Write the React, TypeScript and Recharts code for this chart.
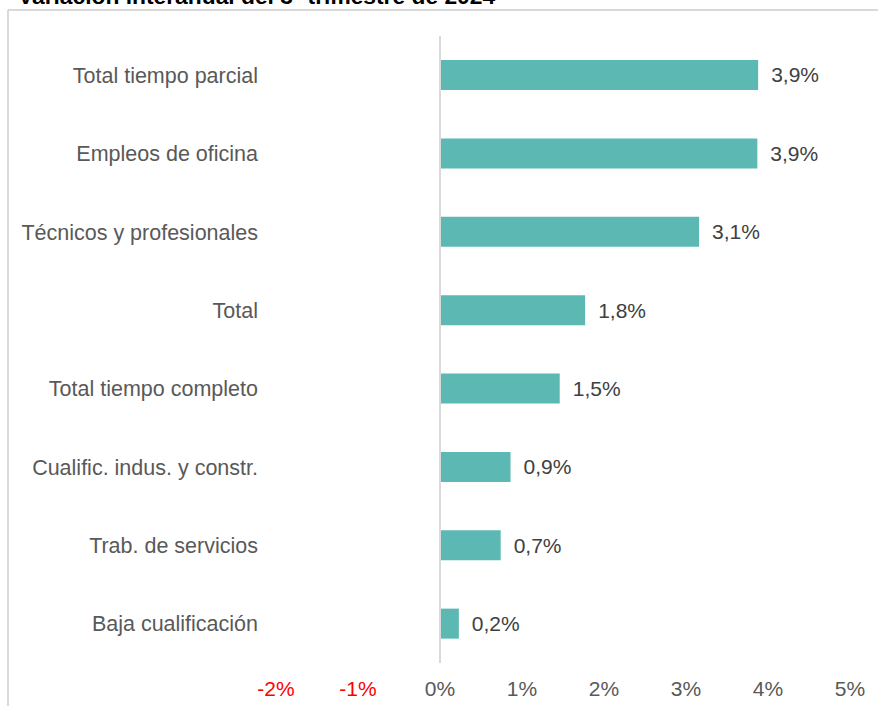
import React from "react";
import { BarChart, Bar, XAxis, YAxis, ReferenceLine, LabelList } from "recharts";

const categories = [
  "Total tiempo parcial",
  "Empleos de oficina",
  "Técnicos y profesionales",
  "Total",
  "Total tiempo completo",
  "Cualific. indus. y constr.",
  "Trab. de servicios",
  "Baja cualificación",
];
const values = [3.88, 3.87, 3.16, 1.77, 1.46, 0.86, 0.74, 0.23];
const valueLabels = ["3,9%", "3,9%", "3,1%", "1,8%", "1,5%", "0,9%", "0,7%", "0,2%"];
const xTicks = [-2, -1, 0, 1, 2, 3, 4, 5];
const title = "Variación interanual del 3º trimestre de 2024";

const data = categories.map((name, i) => ({ name, value: values[i], label: valueLabels[i] }));

const FONT = "'Liberation Sans', Arial, Helvetica, sans-serif";

const XTick = (props: any) => {
  const { x, y, payload } = props;
  const v = payload.value as number;
  return (
    <text x={x} y={y} dy="0.71em" textAnchor="middle" fontSize={21} fontFamily={FONT} fill={v < 0 ? "#ff0000" : "#595959"}>
      {`${v}%`}
    </text>
  );
};

export default function App() {
  return (
    <div style={{ position: "absolute", left: 0, top: 0, width: 878, height: 706, background: "#fff", overflow: "hidden" }}>
      <svg width={878} height={706} style={{ position: "absolute", left: 0, top: 0, pointerEvents: "none" }}>
        <text x={18} y={4} fontSize={22.8} fontWeight="bold" fontFamily={FONT} fill="#000">
          {title}
        </text>
        <line x1={8} y1={10} x2={878} y2={10} stroke="#d9d9d9" strokeWidth={2} />
        <line x1={8} y1={10} x2={8} y2={706} stroke="#d9d9d9" strokeWidth={2} />
      </svg>
      <div style={{ position: "absolute", left: 0, top: 0 }}>
        <BarChart
          width={878}
          height={706}
          data={data}
          layout="vertical"
          margin={{ top: 36, right: 28, bottom: 13, left: 0 }}
        >
          <XAxis
            type="number"
            domain={[-2, 5]}
            ticks={xTicks}
            axisLine={false}
            tickLine={false}
            tickMargin={12}
            height={30}
            tick={<XTick />}
            allowDataOverflow
          />
          <YAxis
            type="category"
            dataKey="name"
            width={276}
            axisLine={false}
            tickLine={false}
            tickMargin={12}
            tick={{ fontSize: 21.5, fill: "#595959", fontFamily: FONT }}
            interval={0}
          />
          <ReferenceLine x={0} stroke="#d9d9d9" strokeWidth={2} />
          <Bar dataKey="value" fill="#5cb8b3" barSize={30} isAnimationActive={false}>
            <LabelList dataKey="label" position="right" offset={13} fontSize={21} fill="#404040" fontFamily={FONT} />
          </Bar>
        </BarChart>
      </div>
    </div>
  );
}
